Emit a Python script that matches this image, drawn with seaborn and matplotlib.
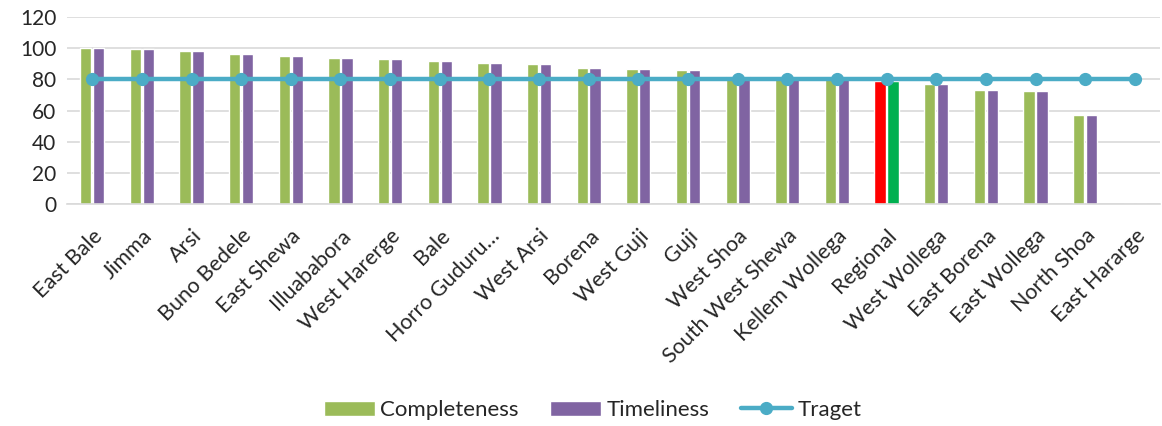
import numpy as np
import pandas as pd
import matplotlib
matplotlib.use("Agg")
import matplotlib.pyplot as plt
import matplotlib.transforms as mtransforms
import seaborn as sns
from matplotlib.patches import Patch
from matplotlib.lines import Line2D

# ----------------------------------------
# Data
# ----------------------------------------
zones = ["East Bale", "Jimma", "Arsi", "Buno Bedele", "East Shewa", "Illuababora",
         "West Harerge", "Bale", "Horro Guduru…", "West Arsi", "Borena", "West Guji",
         "Guji", "West Shoa", "South West Shewa", "Kellem Wollega", "Regional",
         "West Wollega", "East Borena", "East Wollega", "North Shoa", "East Hararge"]
completeness = [100, 99.4, 97.9, 96.4, 95.3, 94.0, 93.1, 91.9, 90.6, 89.9, 87.4, 86.9,
                86.3, 82.3, 80.5, 80.2, 78.9, 77.3, 73.4, 72.3, 57.2, 0]
timeliness = [100, 99.4, 97.9, 96.4, 95.3, 94.0, 93.1, 91.9, 90.6, 89.9, 87.4, 86.9,
              86.3, 82.3, 80.5, 80.2, 78.9, 77.3, 73.4, 72.3, 57.2, 0]
target = [80] * len(zones)

green = "#9BBB59"
purple = "#8064A2"
teal = "#4BACC6"

sns.set_theme(style="white")
plt.rcParams['font.family'] = ['Lato', 'DejaVu Sans']

df = pd.DataFrame({
    "zone": zones * 2,
    "value": completeness + timeliness,
    "series": ["Completeness"] * len(zones) + ["Timeliness"] * len(zones),
})

fig = plt.figure(figsize=(11.62, 4.26), dpi=100)
ax = fig.add_axes([0.058, 0.521, 0.94, 0.439])

sns.barplot(data=df, x="zone", y="value", hue="series", order=zones,
            palette=[green, purple], width=0.52, gap=0.12, ax=ax,
            legend=False, saturation=1)

# Regional bars highlighted
reg = zones.index("Regional")
ax.containers[0][reg].set_facecolor("#FF0000")
ax.containers[1][reg].set_facecolor("#00B050")

ax.plot(range(len(zones)), target, color=teal, linewidth=3.2,
        marker="o", markersize=8.5, zorder=5)

ax.set_xlim(-0.5, len(zones) - 0.5)
ax.set_ylim(0, 120)
ax.set_yticks(range(0, 121, 20))
ax.yaxis.grid(True, color="#D9D9D9", linewidth=1.2)
ax.set_axisbelow(True)
for s in ["top", "right", "left"]:
    ax.spines[s].set_visible(False)
ax.spines["bottom"].set_color("#D9D9D9")
ax.spines["bottom"].set_linewidth(1.2)
ax.set_xlabel("")
ax.set_ylabel("")
ax.tick_params(axis="y", labelsize=15, pad=8, length=0)
ax.tick_params(axis="x", labelsize=15.5, length=0, pad=4)
offset = mtransforms.ScaledTranslation(0.0, -0.16, fig.dpi_scale_trans)
for lbl in ax.get_xticklabels():
    lbl.set_rotation(45)
    lbl.set_ha("right")
    lbl.set_va("top")
    lbl.set_rotation_mode("anchor")
    lbl.set_transform(lbl.get_transform() + offset)

handles = [
    Patch(facecolor=green, label="Completeness"),
    Patch(facecolor=purple, label="Timeliness"),
    Line2D([0], [0], color=teal, linewidth=3.2, marker="o", markersize=8.5, label="Traget"),
]
fig.legend(handles=handles, loc="center", bbox_to_anchor=(0.51, 0.037), ncol=3,
           frameon=False, fontsize=16, handlelength=2.3, handleheight=0.7,
           columnspacing=1.4, handletextpad=0.25)

fig.savefig("out.png", dpi=100)
